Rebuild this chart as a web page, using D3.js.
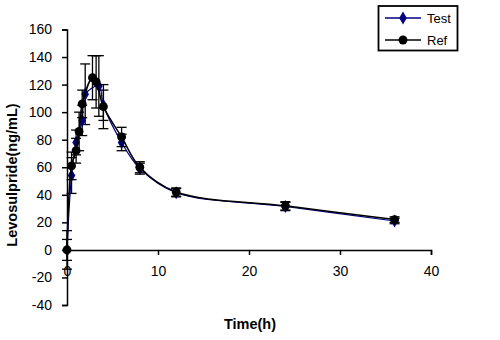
<!DOCTYPE html>
<html>
<head>
<meta charset="utf-8">
<script src="https://cdn.jsdelivr.net/npm/d3@7"></script>
<style>
  body { margin: 0; background: #fff; }
  text { font-family: "Liberation Sans", Arial, sans-serif; }
</style>
</head>
<body>
<div id="chart"></div>
<script>
// Levosulpride plasma concentration, mean +/- SD
const testTimes = [0, 0.5, 1, 1.67, 2, 3.5, 4, 6, 8, 12, 24, 36];
const testConc = [0, 54, 78, 94, 113, 119, 105, 78, 59, 41.5, 31.5, 21];
const testSd = [7.6, 13, 9, 11, 22, 22, 11, 6, 4, 3, 3, 2];

const refTimes = [0, 0.5, 1, 1.33, 1.67, 2.8, 3.2, 4, 6, 8, 12, 24, 36];
const refConc = [0, 61, 72, 86, 106, 125, 122, 104, 82, 60, 42, 32, 22];
const refSd = [14, 10, 9, 14, 10, 16, 19, 16, 7, 4, 3, 3, 2];

const xTicks = [0, 10, 20, 30, 40];
const yTicks = [-40, -20, 0, 20, 40, 60, 80, 100, 120, 140, 160];

const width = 500;
const height = 340;

const x = d3.scaleLinear().domain([0, 40]).range([67, 431]);
const y = d3.scaleLinear().domain([-40, 160]).range([305, 29.5]);

const svg = d3
  .select("#chart")
  .append("svg")
  .attr("width", width)
  .attr("height", height);

// axes (plain hyphen for negatives, like the original)
const yAxis = svg
  .append("g")
  .attr("transform", "translate(" + x(0) + ",0)")
  .call(
    d3.axisLeft(y).tickValues(yTicks).tickSize(5).tickPadding(10)
      .tickFormat(d => String(d))
  );

const xAxis = svg
  .append("g")
  .attr("transform", "translate(0," + y(0) + ")")
  .call(
    d3.axisBottom(x).tickValues(xTicks).tickSize(5).tickPadding(11)
      .tickFormat(d => String(d))
  );

[xAxis, yAxis].forEach(a => {
  a.select(".domain").attr("stroke", "#000").attr("stroke-width", 1.5);
  a.selectAll(".tick line").attr("stroke", "#000").attr("stroke-width", 1.5);
  a.selectAll(".tick text")
    .attr("fill", "#000")
    .attr("font-size", "14px")
    .attr("font-family", "Liberation Sans, Arial, sans-serif");
});

// axis titles
svg
  .append("text")
  .attr("x", 250)
  .attr("y", 329)
  .attr("text-anchor", "middle")
  .attr("font-size", "14.5px")
  .attr("font-weight", "bold")
  .text("Time(h)");

svg
  .append("text")
  .attr("transform", "translate(17,175)rotate(-90)")
  .attr("text-anchor", "middle")
  .attr("font-size", "14.5px")
  .attr("font-weight", "bold")
  .text("Levosulpride(ng/mL)");

const line = d3
  .line()
  .curve(d3.curveCatmullRom.alpha(0.5))
  .x(d => x(d.t))
  .y(d => y(d.v));

function markerSize(marker) {
  return marker === d3.symbolDiamond ? 50 : 62;
}

function drawSeries(times, conc, sd, color, marker, lineWidth) {
  const data = times.map((t, i) => ({ t: t, v: conc[i], sd: sd[i] }));
  const g = svg.append("g");

  // error bars
  const eb = g
    .selectAll(".err")
    .data(data)
    .enter()
    .append("g")
    .attr("stroke", "#000")
    .attr("stroke-width", 1.3);
  eb.append("line")
    .attr("x1", d => x(d.t))
    .attr("x2", d => x(d.t))
    .attr("y1", d => y(d.v + d.sd))
    .attr("y2", d => y(d.v - d.sd));
  eb.append("line")
    .attr("x1", d => x(d.t) - 5)
    .attr("x2", d => x(d.t) + 5)
    .attr("y1", d => y(d.v + d.sd))
    .attr("y2", d => y(d.v + d.sd));
  eb.append("line")
    .attr("x1", d => x(d.t) - 5)
    .attr("x2", d => x(d.t) + 5)
    .attr("y1", d => y(d.v - d.sd))
    .attr("y2", d => y(d.v - d.sd));

  g.append("path")
    .datum(data)
    .attr("fill", "none")
    .attr("stroke", color)
    .attr("stroke-width", lineWidth)
    .attr("d", line);

  g.selectAll(".mk")
    .data(data)
    .enter()
    .append("path")
    .attr("fill", color)
    .attr("d", d3.symbol().type(marker).size(markerSize(marker)))
    .attr("transform", d => "translate(" + x(d.t) + "," + y(d.v) + ")");
}

drawSeries(testTimes, testConc, testSd, "#000080", d3.symbolDiamond, 1.2);
drawSeries(refTimes, refConc, refSd, "#000", d3.symbolCircle, 1.5);

// legend
const legend = svg.append("g");
legend
  .append("rect")
  .attr("x", 378.5)
  .attr("y", 6)
  .attr("width", 79)
  .attr("height", 44.5)
  .attr("fill", "#fff")
  .attr("stroke", "#000")
  .attr("stroke-width", 1.8);

const legendItems = [
  { name: "Test", color: "#000080", marker: d3.symbolDiamond, ly: 18 },
  { name: "Ref", color: "#000", marker: d3.symbolCircle, ly: 40 }
];
legendItems.forEach(it => {
  legend
    .append("line")
    .attr("x1", 385)
    .attr("x2", 421)
    .attr("y1", it.ly)
    .attr("y2", it.ly)
    .attr("stroke", it.color)
    .attr("stroke-width", 1.5);
  legend
    .append("path")
    .attr("fill", it.color)
    .attr("d", d3.symbol().type(it.marker).size(markerSize(it.marker)))
    .attr("transform", "translate(403," + it.ly + ")");
  legend
    .append("text")
    .attr("x", 427)
    .attr("y", it.ly + 4.5)
    .attr("font-size", "13px")
    .text(it.name);
});
</script>
</body>
</html>
